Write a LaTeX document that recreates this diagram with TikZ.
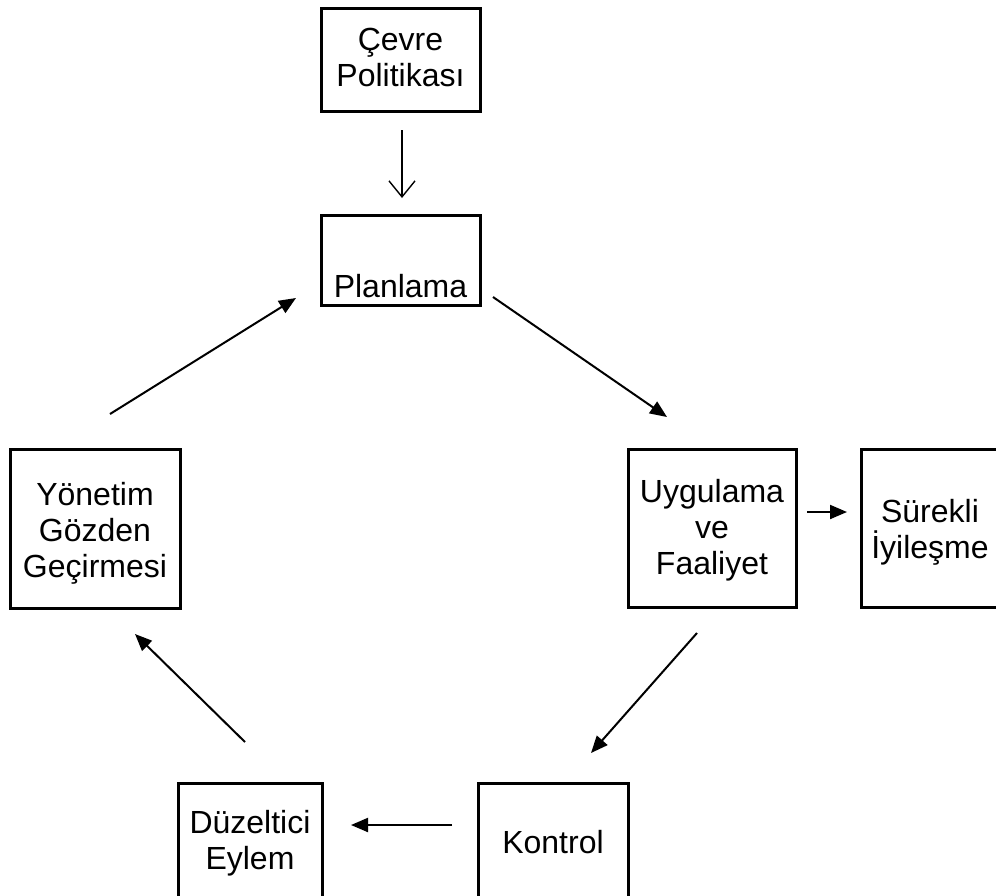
\documentclass[tikz,border=0pt]{standalone}
\usepackage{fontspec}
\setmainfont{Liberation Sans}
\usetikzlibrary{arrows.meta}
\begin{document}
\begin{tikzpicture}[x=1pt,y=-1pt,
  stagebox/.style={draw,line width=3pt,inner sep=0pt},
  caption/.style={inner sep=0pt,align=center,anchor=base,
    font=\fontsize{32}{36}\selectfont},
  flow/.style={line width=2pt,-{Triangle[length=17pt,width=14pt]}},
  feed/.style={line width=1.4pt,-{Straight Barb[length=16pt,width=26pt,line width=1.4pt]}}]
\useasboundingbox (0,0) rectangle (996,895);
\clip (0,0) rectangle (996,895);

% stage boxes
\node[stagebox,minimum width=159pt,minimum height=103pt] (cevre) at (400.5,59.5) {};
\node[stagebox,minimum width=159pt,minimum height=90pt] (plan) at (400.5,260) {};
\node[stagebox,minimum width=168pt,minimum height=158pt] (uyg) at (712,528) {};
\node[stagebox,minimum width=140pt,minimum height=158pt] (sur) at (931,528) {};
\node[stagebox,minimum width=170pt,minimum height=159pt] (yon) at (95,528.5) {};
\node[stagebox,minimum width=144pt,minimum height=117pt] (duz) at (250,841.5) {};
\node[stagebox,minimum width=150pt,minimum height=117pt] (kon) at (553,841.5) {};

% captions, placed on the baseline of their last line
\node[caption] (cevretext) at (400.5,86) {Çevre\\Politikası};
\node[caption] (plantext) at (400.5,297) {Planlama};
\node[caption] (uygtext) at (712,574) {Uygulama\\ve\\Faaliyet};
\node[caption] (surtext) at (930,558) {Sürekli\\İyileşme};
\node[caption] (yontext) at (95,577) {Yönetim\\Gözden\\Geçirmesi};
\node[caption] (duztext) at (250,869) {Düzeltici\\Eylem};
\node[caption] (kontext) at (553,853) {Kontrol};

% free arrow ends
\coordinate (c1) at (402,130);  \coordinate (c2) at (402,198);
\coordinate (p1) at (493,297);  \coordinate (p2) at (667,417);
\coordinate (u1) at (697,633);  \coordinate (u2) at (591,753);
\coordinate (k1) at (452,825);  \coordinate (k2) at (351,825);
\coordinate (d1) at (245,742);  \coordinate (d2) at (135,634);
\coordinate (y1) at (110,414);  \coordinate (y2) at (296,298);
\coordinate (s1) at (807,512);  \coordinate (s2) at (847,512);

% connectors
\draw[feed] (c1) -- (c2);
\draw[flow] (p1) -- (p2);
\draw[flow] (u1) -- (u2);
\draw[flow] (k1) -- (k2);
\draw[flow] (d1) -- (d2);
\draw[flow] (y1) -- (y2);
\draw[flow] (s1) -- (s2);
\end{tikzpicture}
\end{document}
